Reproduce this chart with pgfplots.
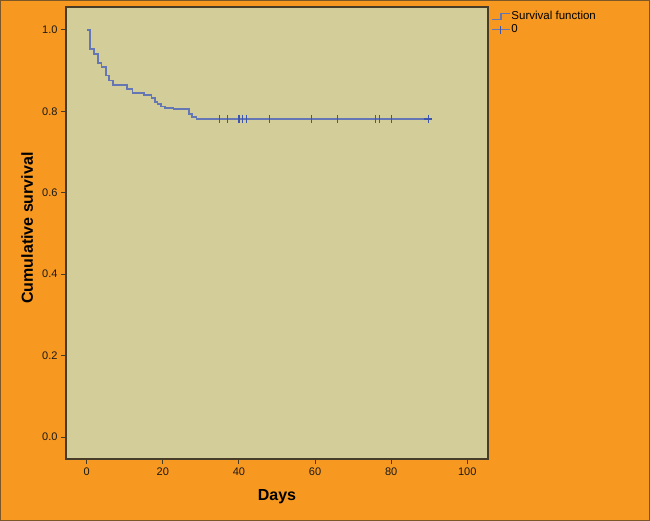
\documentclass[border=0pt]{standalone}
\usepackage{fontspec}
\setmainfont{Liberation Sans}
\usepackage{pgfplots}
\pgfplotsset{compat=1.18}
\definecolor{outer}{RGB}{247,152,32}
\definecolor{inner}{RGB}{211,206,153}
\definecolor{curve}{RGB}{100,118,180}
\definecolor{censor}{RGB}{60,85,175}
\definecolor{frame}{RGB}{70,60,40}
\begin{document}
\begin{tikzpicture}[x=1bp,y=1bp]
\fill[outer] (0,0) rectangle (650,521);
\draw[frame!70!outer, line width=1.2bp] (0.6,0.6) rectangle (649.4,520.4);
\begin{axis}[
  at={(66bp,62bp)}, anchor=south west, scale only axis,
  width=422bp, height=452bp,
  xmin=-5.45, xmax=105.45, ymin=-0.054, ymax=1.056,
  axis background/.style={fill=inner},
  axis line style={frame, line width=1.2bp},
  xtick={0,20,40,60,80,100}, ytick={0,0.2,0.4,0.6,0.8,1.0},
  xtick pos=left, ytick pos=left,
  yticklabel style={/pgf/number format/.cd, fixed, fixed zerofill, precision=1},
  /pgf/number format/assume math mode=true,
  tick align=outside, major tick length=5bp,
  tick style={frame, line width=1bp},
  ticklabel style={font=\fontsize{11bp}{13bp}\selectfont, text=black!90},
  xlabel={Days}, ylabel={Cumulative survival},
  label style={font=\fontsize{16bp}{18bp}\selectfont\bfseries},
  xlabel style={at={(axis description cs:0.5,-0.084)}, anchor=center},
  ylabel style={at={(axis description cs:-0.092,0.511)}, anchor=center, rotate=0},
  legend style={at={(1.004,0.995)}, anchor=north west, draw=none, fill=none,
    font=\fontsize{11.5bp}{12bp}\selectfont, inner sep=1bp, row sep=1.5bp,
    nodes={inner sep=1bp}},
  legend cell align=left,
  clip=false,
]
\addplot[const plot, curve, line width=1.6bp,
  legend image code/.code={\draw[curve, line width=1.6bp] (0bp,-3bp) -- (9bp,-3bp) -- (9bp,3bp) -- (18bp,3bp);}]
  coordinates {
  (0,1.0) (0.8,0.953) (1.85,0.940) (2.9,0.919) (3.9,0.908) (5.0,0.888)
  (5.9,0.875) (6.9,0.865) (10.6,0.855) (12.0,0.845) (15.0,0.840)
  (17.0,0.833) (18.0,0.823) (18.6,0.818) (19.5,0.812) (20.6,0.808)
  (22.8,0.805) (26.8,0.793) (27.6,0.786) (28.8,0.781) (90,0.781)
  };
\addlegendentry{Survival function}
\addplot[only marks, mark=|, mark size=4bp, censor, mark options={line width=1.1bp},
  legend image code/.code={\draw[curve, line width=1.6bp] (0bp,0bp) -- (18bp,0bp); \draw[censor, line width=1.1bp] (9bp,-4bp) -- (9bp,4bp);}]
  coordinates {
  (35,0.781) (37,0.781) (40,0.781) (41,0.781) (42,0.781) (48,0.781)
  (59,0.781) (66,0.781) (76,0.781) (77,0.781) (80,0.781)
  };
\addlegendentry{0}
\addplot[only marks, mark=+, mark size=4bp, censor, mark options={line width=1.8bp}, forget plot]
  coordinates {(89.8,0.781)};
\end{axis}
\end{tikzpicture}
\end{document}
